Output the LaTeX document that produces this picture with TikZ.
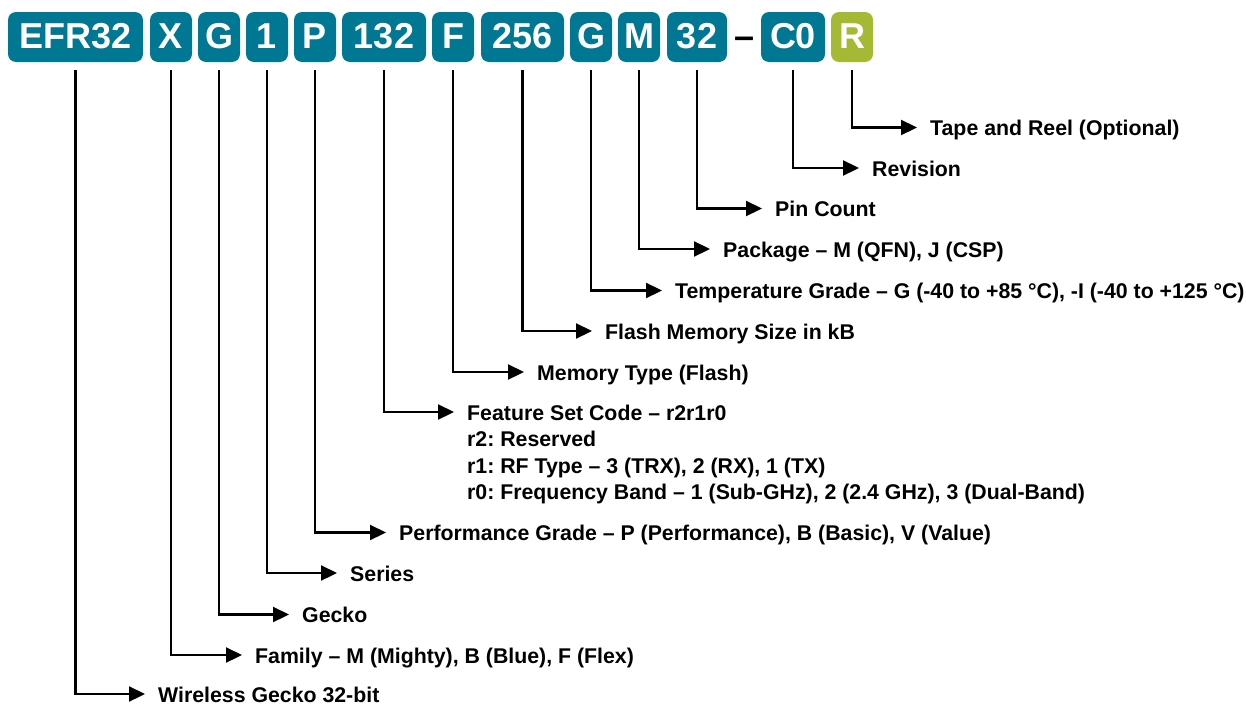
\documentclass[tikz,border=0pt]{standalone}
\usepackage{fontspec}
\setmainfont{Liberation Sans}
\frenchspacing
\usetikzlibrary{arrows.meta}
\definecolor{teal}{RGB}{0,120,148}
\definecolor{lime}{RGB}{165,185,52}
\tikzset{
  pbox/.style={fill=teal, rounded corners=8pt, inner sep=0pt, minimum height=50pt,
    text=white, font=\fontsize{36}{40}\selectfont\bfseries, text height=26pt, text depth=3pt},
  optbox/.style={pbox, fill=lime},
  lbl/.style={anchor=west, inner sep=0pt, font=\fontsize{21.3}{26}\selectfont\bfseries,
    text height=15pt, text depth=0pt},
  conn/.style={line width=2.2pt, line join=miter, -{Triangle[length=16pt,width=15pt]}}
}
\begin{document}
\begin{tikzpicture}[x=1pt,y=-1pt]
\useasboundingbox (0,0) rectangle (1246,704);
% part number boxes
\node[pbox, minimum width=135pt] (b1) at (75.5,37) {EFR32};
\node[pbox, minimum width=42pt] (b2) at (171,37) {X};
\node[pbox, minimum width=42pt] (b3) at (219,37) {G};
\node[pbox, minimum width=42pt] (b4) at (267,37) {1};
\node[pbox, minimum width=42pt] (b5) at (315,37) {P};
\node[pbox, minimum width=84pt] (b6) at (384,37) {132};
\node[pbox, minimum width=42pt] (b7) at (453,37) {F};
\node[pbox, minimum width=83pt] (b8) at (522.5,37) {256};
\node[pbox, minimum width=42pt] (b9) at (591,37) {G};
\node[pbox, minimum width=42pt] (b10) at (639,37) {M};
\node[pbox, minimum width=60pt] (b11) at (697,37) {32};
\node[inner sep=0pt, font=\fontsize{36}{40}\selectfont\bfseries, text height=26pt, text depth=3pt] (dash) at (744,37) {–};
\node[pbox, minimum width=64pt] (b12) at (793,37) {C0};
\node[optbox, minimum width=42pt] (b13) at (852,37) {R};
% labels
\node[lbl] (l13) at (930,128) {Tape and Reel (Optional)};
\node[lbl] (l12) at (872,168.5) {Revision};
\node[lbl] (l11) at (775,209) {Pin Count};
\node[lbl] (l10) at (723,249.5) {Package – M (QFN), J (CSP)};
\node[lbl] (l9) at (675,291) {Temperature Grade – G (-40 to +85 °C), -I (-40 to +125 °C)};
\node[lbl] (l8) at (605,331.5) {Flash Memory Size in kB};
\node[lbl] (l7) at (537,372.5) {Memory Type (Flash)};
\node[lbl] (l6) at (467,412.5) {Feature Set Code – r2r1r0};
\node[lbl] (l6a) at (467,439) {r2: Reserved};
\node[lbl] (l6b) at (467,465.5) {r1: RF Type – 3 (TRX), 2 (RX), 1 (TX)};
\node[lbl] (l6c) at (467,491.5) {r0: Frequency Band – 1 (Sub-GHz), 2 (2.4 GHz), 3 (Dual-Band)};
\node[lbl] (l5) at (399,533) {Performance Grade – P (Performance), B (Basic), V (Value)};
\node[lbl] (l4) at (350,573.5) {Series};
\node[lbl] (l3) at (302,615) {Gecko};
\node[lbl] (l2) at (255,655.5) {Family – M (Mighty), B (Blue), F (Flex)};
\node[lbl] (l1) at (158,694.5) {Wireless Gecko 32-bit};
% connectors
\foreach \i in {1,...,13}{
  \draw[conn] ([yshift=-8pt]b\i.south) |- ([xshift=-13pt,yshift=0.5pt]l\i.west);
}
\end{tikzpicture}
\end{document}
